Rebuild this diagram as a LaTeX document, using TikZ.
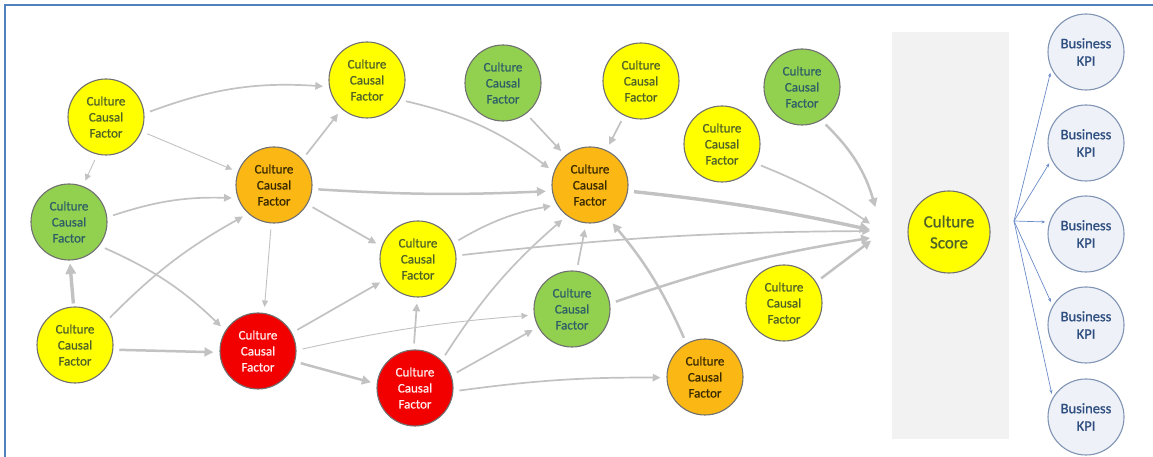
\documentclass[tikz,border=0pt]{standalone}
\usepackage{fontspec}
\setmainfont{Carlito}
\newfontfamily\cfont{Carlito}[FakeBold=0.9]
\usetikzlibrary{arrows.meta}
\definecolor{cyel}{HTML}{FFFF00}
\definecolor{cgrn}{HTML}{92D050}
\definecolor{corg}{HTML}{FBB714}
\definecolor{cred}{HTML}{F20000}
\definecolor{tyel}{HTML}{4F6228}
\definecolor{tgrn}{HTML}{2E5F66}
\definecolor{torg}{HTML}{3A2A00}
\definecolor{tred}{HTML}{FFECEC}
\definecolor{cedge}{HTML}{707070}
\definecolor{carr}{HTML}{C2C2C2}
\definecolor{cblue}{HTML}{4F81BD}
\definecolor{cline}{HTML}{6A8BC8}
\definecolor{ckpi}{HTML}{EEF1F7}
\definecolor{ckpie}{HTML}{8094B4}
\definecolor{tkpi}{HTML}{2F4F80}
\definecolor{cpanel}{HTML}{F2F2F2}
\begin{document}
\begin{tikzpicture}[x=1pt,y=1pt,
  ccf/.style={circle, minimum size=76pt, inner sep=0pt, draw=cedge, line width=1.1pt, align=center, font=\cfont\fontsize{13}{16}\selectfont},
  yel/.style={ccf, fill=cyel, text=tyel},
  grn/.style={ccf, fill=cgrn, text=tgrn},
  org/.style={ccf, fill=corg, text=torg},
  rdn/.style={ccf, fill=cred, text=tred},
  kpi/.style={circle, minimum size=76pt, inner sep=0pt, draw=ckpie, line width=1.1pt, fill=ckpi, text=tkpi, align=center, font=\cfont\fontsize{14.5}{17.5}\selectfont},
  arr/.style={draw=carr, -{Triangle[length=5pt 1.6, width=4.5pt 1.7]}, shorten <=6pt, shorten >=6pt},
  w1/.style={arr, line width=0.9pt},
  w2/.style={arr, line width=1.7pt},
  w3/.style={arr, line width=2.5pt},
  w4/.style={arr, line width=3.4pt},
  bl/.style={draw=cline, line width=0.7pt, -{Stealth[length=4pt,width=3pt]}, shorten >=4pt}
]
\useasboundingbox (0,0) rectangle (1153,457);
\draw[cblue, line width=2pt] (5,0) -- (5,452) -- (1153,452);
\fill[cpanel] (892,18) rectangle (1009,425);

\node[yel] (y1) at (106,340) {Culture\\Causal\\Factor};
\node[grn] (g1) at (69,235) {Culture\\Causal\\Factor};
\node[yel] (y2) at (75,112) {Culture\\Causal\\Factor};
\node[org] (o1) at (274,272) {Culture\\Causal\\Factor};
\node[yel] (y3) at (367,377) {Culture\\Causal\\Factor};
\node[rdn] (r1) at (258,106) {Culture\\Causal\\Factor};
\node[yel] (y4) at (418,198) {Culture\\Causal\\Factor};
\node[rdn] (r2) at (415,69) {Culture\\Causal\\Factor};
\node[grn] (g2) at (572,148) {Culture\\Causal\\Factor};
\node[org] (o2) at (590,272) {Culture\\Causal\\Factor};
\node[grn] (g3) at (503,374) {Culture\\Causal\\Factor};
\node[yel] (y5) at (641,376) {Culture\\Causal\\Factor};
\node[yel] (y6) at (722,313) {Culture\\Causal\\Factor};
\node[grn] (g4) at (802,370) {Culture\\Causal\\Factor};
\node[org] (o3) at (705,80) {Culture\\Causal\\Factor};
\node[yel] (y7) at (784,154) {Culture\\Causal\\Factor};

\node[circle, minimum size=82pt, inner sep=0pt, draw=cedge, line width=1.1pt, fill=cyel, text=tyel, align=center, font=\cfont\fontsize{17}{21}\selectfont] (cs) at (949,225) {Culture\\Score};

\node[kpi] (k1) at (1086,405) {Business\\KPI};
\node[kpi] (k2) at (1086,314) {Business\\KPI};
\node[kpi] (k3) at (1086,223) {Business\\KPI};
\node[kpi] (k4) at (1086,132) {Business\\KPI};
\node[kpi] (k5) at (1086,40) {Business\\KPI};

\coordinate (cA) at (877,244);
\coordinate (cB) at (875,230);
\coordinate (cC) at (876,226);
\coordinate (cD) at (876,220);
\coordinate (hub) at (1014,236);

% gray arrows
\draw[w2] (y1.5) to[bend left=12] (y3.190);
\draw[w1] (y1.-22) -- (o1.160);
\draw[w1] (y1.257) -- (g1.69);
\draw[w2] (g1.7) to[bend left=10] (o1.200);
\draw[w2] (g1.-38) to[bend left=10] (r1.148);
\draw[w4, shorten <=3pt, shorten >=3pt] (y2.92) -- (g1.271);
\draw[w2] (y2.37) to[bend left=8] (o1.228);
\draw[w3] (y2.-7) -- (r1.182);
\draw[w2] (o1.42) -- (y3.229);
\draw[w3] (o1.-6) to[bend right=3] (o2.189);
\draw[w2] (o1.-30) -- (y4.161);
\draw[w1] (o1.266) -- (r1.81);
\draw[w2] (y3.-31) to[bend left=12] (o2.160);
\draw[w2] (r1.28) -- (y4.212);
\draw[w1] (r1.1) to[bend left=4] (g2.189);
\draw[w3] (r1.-16) -- (r2.174);
\draw[w2] (r2.92) -- (y4.269);
\draw[w2] (r2.46) to[bend left=8] (o2.233);
\draw[w2] (r2.19) -- (g2.208);
\draw[w2] (r2.-5) to[bend left=4] (o3.181);
\draw[w2] (y4.24) to[bend left=10] (o2.211);
\draw[w2] (y4.5) to[bend left=3] (cC);
\draw[w2] (g2.83) -- (o2.264);
\draw[w3] (g2.8) to[bend left=5] (cD);
\draw[w3] (o3.119) to[bend right=8] (o2.299);
\draw[w2] (g3.-53) -- (o2.130);
\draw[w2] (y5.244) -- (o2.65);
\draw[w4] (o2.-9) to[bend left=3] (cC);
\draw[w2] (y6.-30) to[bend left=6] (cB);
\draw[w3] (g4.-60) to[bend left=15] (cA);
\draw[w3] (y7.33) -- (cD);

% blue lines
\draw[bl] (hub) -- (k1.206);
\draw[bl] (hub) -- (k2.206);
\draw[bl] (hub) -- (k3.162);
\draw[bl] (hub) -- (k4.150);
\draw[bl] (hub) -- (k5.150);
\end{tikzpicture}
\end{document}
